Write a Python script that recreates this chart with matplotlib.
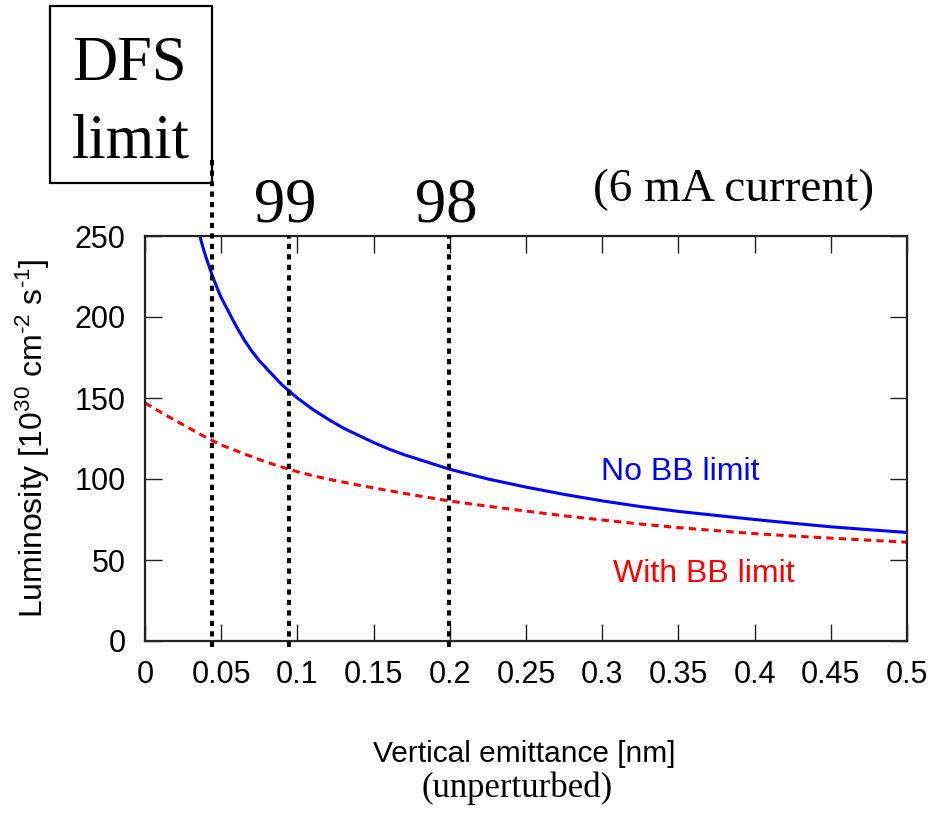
import matplotlib
matplotlib.use("Agg")
import matplotlib.pyplot as plt
from matplotlib.patches import Rectangle

plt.rcParams["mathtext.fontset"] = "custom"
plt.rcParams["mathtext.rm"] = "Liberation Sans"
plt.rcParams["mathtext.it"] = "Liberation Sans:italic"
plt.rcParams["mathtext.bf"] = "Liberation Sans:bold"

# Vertical emittance [nm] and luminosity [1e30 cm^-2 s^-1]
emit_no_bb = [0.036, 0.038, 0.040, 0.0425, 0.045, 0.0475, 0.050, 0.055, 0.060,
              0.065, 0.070, 0.075, 0.080, 0.085, 0.090, 0.095, 0.100, 0.110,
              0.120, 0.130, 0.140, 0.150, 0.160, 0.170, 0.180, 0.190, 0.200,
              0.225, 0.250, 0.275, 0.300, 0.325, 0.350, 0.375, 0.400, 0.425,
              0.450, 0.475, 0.500]
lumi_no_bb = [250, 243, 237, 230, 223.5, 217.5, 212, 203, 194,
              186, 179, 173, 168, 163, 158, 154, 150, 143,
              137, 131.5, 127, 122.5, 118.5, 115, 112, 109, 106,
              100, 95, 90.5, 86.5, 83, 80, 77.5, 75, 72.7,
              70.5, 68.7, 67]

emit_bb = [0.0, 0.0125, 0.025, 0.0375, 0.050, 0.0625, 0.075, 0.0875, 0.100,
           0.1125, 0.125, 0.1375, 0.150, 0.175, 0.200, 0.225, 0.250, 0.275,
           0.300, 0.325, 0.350, 0.375, 0.400, 0.425, 0.450, 0.475, 0.500]
lumi_bb = [147, 140, 133.5, 127, 121, 116.5, 112, 108, 104.5,
           101.5, 99, 96.7, 94.5, 90.3, 86.4, 83.2, 80.2, 77.3,
           74.7, 72.2, 70, 68.1, 66.3, 64.8, 63.5, 62.2, 61]

# Emittance thresholds marked with dotted lines
dfs_limit = 0.0438
level_lines = [0.0943, 0.1995]
level_labels = ["99", "98"]

xticks = [0, 0.05, 0.1, 0.15, 0.2, 0.25, 0.3, 0.35, 0.4, 0.45, 0.5]
xticklabels = ["0", "0.05", "0.1", "0.15", "0.2", "0.25", "0.3", "0.35", "0.4", "0.45", "0.5"]
yticks = [0, 50, 100, 150, 200, 250]

sans = ["Liberation Sans", "DejaVu Sans"]
serif = ["Liberation Serif", "DejaVu Serif"]

W, H = 930, 831
fig = plt.figure(figsize=(W / 100, H / 100), dpi=100)
ax = fig.add_axes([145 / W, 1 - 641 / H, (907 - 145) / W, (641 - 236) / H])

ax.plot(emit_no_bb, lumi_no_bb, color="#0000ff", lw=2.2, solid_capstyle="butt")
ax.plot(emit_bb, lumi_bb, color="#ff0000", lw=2.2, linestyle=(0, (2.4, 1.7)))

ax.set_xlim(0, 0.5)
ax.set_ylim(0, 250)

dot_style = dict(color="black", lw=2.9, linestyle=(0, (1.3, 1.3)),
                 dash_capstyle="butt", clip_on=False, zorder=5)
ax.plot([dfs_limit, dfs_limit], [-3.7, 300], **dot_style)
for xv in level_lines:
    ax.plot([xv, xv], [-3.7, 250], **dot_style)

ax.set_xticks(xticks)
ax.set_xticklabels(xticklabels, fontfamily=sans, fontsize=22)
ax.set_yticks(yticks)
ax.set_yticklabels([str(v) for v in yticks], fontfamily=sans, fontsize=22)
ax.tick_params(axis="both", direction="in", length=12, width=1.0, color="#222222",
               top=True, right=True, pad=14)
for sp in ax.spines.values():
    sp.set_linewidth(1.6)
    sp.set_color("#222222")

ax.set_ylabel(r"Luminosity [10$^{\mathrm{30}}$ cm$^{\text{-2}}$ s$^{\text{-1}}$]",
              fontfamily=sans, fontsize=23)
ax.yaxis.set_label_coords((52 - 145) / (907 - 145), 0.5)

# Curve labels
ax.text(0.2992, 99.4, "No BB limit", color="#0000ff", fontfamily=sans, fontsize=23,
        ha="left", va="baseline")
ax.text(0.307, 36.4, "With BB limit", color="#ff0000", fontfamily=sans, fontsize=23,
        ha="left", va="baseline")

# Figure-level annotations (pixel positions converted to figure fraction)
def fx(px):
    return px / W

def fy(py):
    return 1 - py / H

fig.text(fx(524), fy(754), "Vertical emittance [nm]", fontfamily=sans, fontsize=21.5,
         ha="center", va="center")
fig.text(fx(517), fy(788), "(unperturbed)", fontfamily=serif, fontsize=25,
         ha="center", va="center")
fig.text(fx(734), fy(190), "(6 mA current)", fontfamily=serif, fontsize=34,
         ha="center", va="center")
for xv, lab in zip(level_lines, level_labels):
    xpix = 145 + (xv - 0) / 0.5 * (907 - 145)
    fig.text(fx(xpix - 3), fy(222), lab, fontfamily=serif, fontsize=45,
             ha="center", va="baseline")

fig.patches.append(Rectangle((fx(50), fy(183)), fx(212) - fx(50), fy(6) - fy(183),
                             transform=fig.transFigure, fill=False, lw=1.6,
                             edgecolor="black"))
fig.text(fx(72), fy(80), "DFS", fontfamily=serif, fontsize=45, ha="left", va="baseline")
fig.text(fx(72), fy(157), "limit", fontfamily=serif, fontsize=45, ha="left", va="baseline")

fig.savefig("out.png", dpi=100, facecolor="white")
